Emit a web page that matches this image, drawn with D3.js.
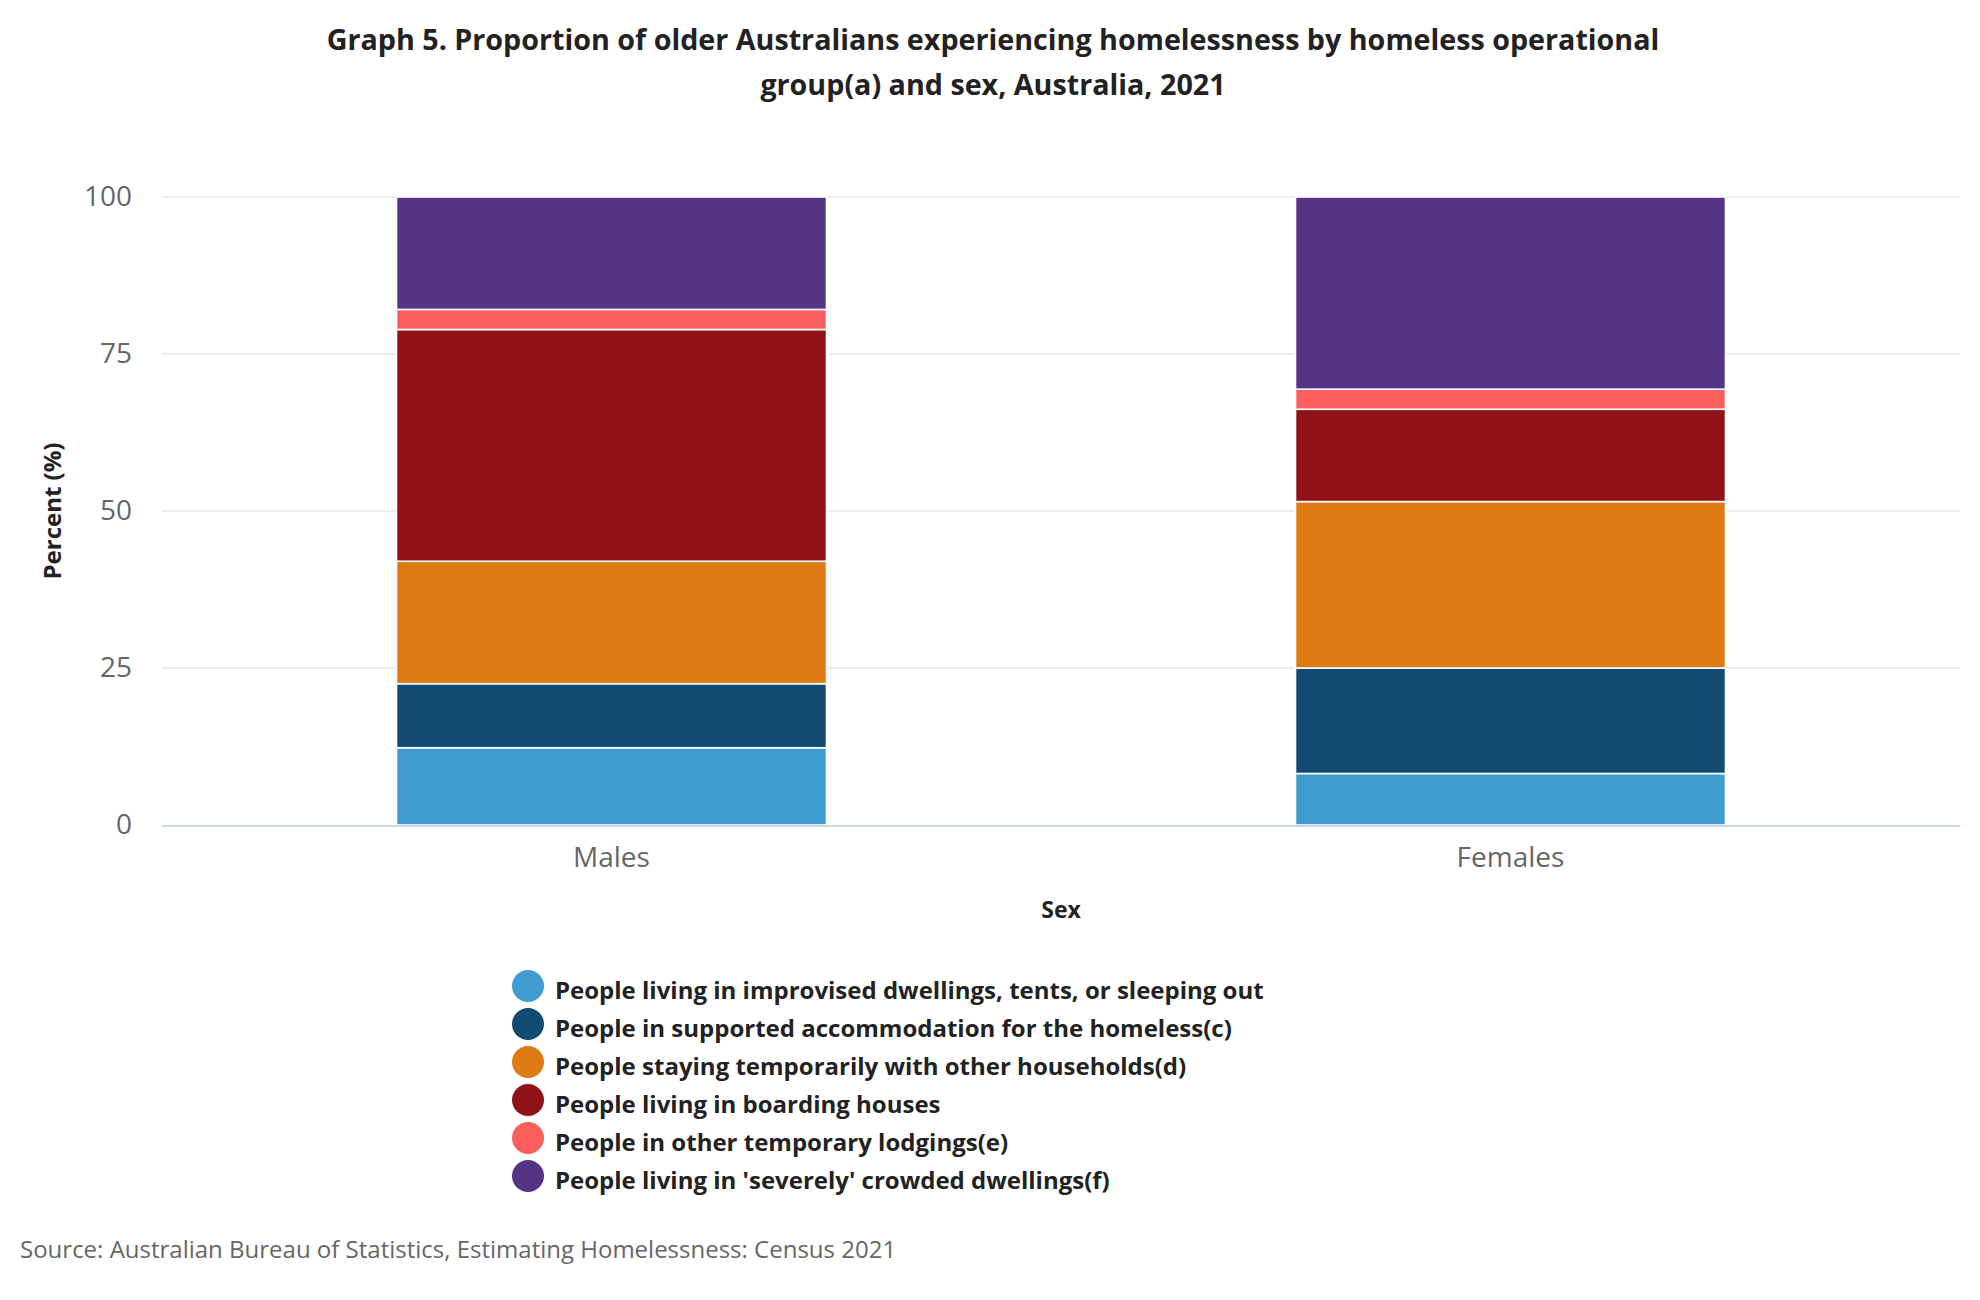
<!DOCTYPE html>
<html>
<head>
<meta charset="utf-8">
<script src="https://cdn.jsdelivr.net/npm/d3@7/dist/d3.min.js"></script>
<style>
  html, body { margin: 0; padding: 0; background: #fff; }
  svg { display: block; font-family: "Open Sans", "Noto Sans", sans-serif; }
</style>
</head>
<body>
<svg id="chart" width="1980" height="1300"></svg>
<script>
const categories = ["Males", "Females"];
const seriesNames = [
  "People living in improvised dwellings, tents, or sleeping out",
  "People in supported accommodation for the homeless(c)",
  "People staying temporarily with other households(d)",
  "People living in boarding houses",
  "People in other temporary lodgings(e)",
  "People living in 'severely' crowded dwellings(f)"
];
const improvised = [12.3, 8.2];
const supported = [10.2, 16.8];
const stayingTemp = [19.5, 26.5];
const boarding = [36.9, 14.7];
const otherLodgings = [3.2, 3.2];
const crowded = [17.9, 30.6];
const seriesColors = ["#3e9cd1", "#134a71", "#de7a13", "#8e1217", "#fd5f5f", "#553486"];
const yTicks = [0, 25, 50, 75, 100];
const titleLines = [
  "Graph 5. Proportion of older Australians experiencing homelessness by homeless operational",
  "group(a) and sex, Australia, 2021"
];
const sourceText = "Source: Australian Bureau of Statistics, Estimating Homelessness: Census 2021";

const seriesValues = [improvised, supported, stayingTemp, boarding, otherLodgings, crowded];
const table = categories.map((c, i) => {
  const row = { category: c };
  seriesNames.forEach((s, j) => row[s] = seriesValues[j][i]);
  return row;
});

const svg = d3.select("#chart");
const plotLeft = 162, plotRight = 1960, plotTop = 197, plotBottom = 825;

const x = d3.scaleBand().domain(categories).range([plotLeft, plotRight])
  .paddingInner(0.5217).paddingOuter(0.26085);
const y = d3.scaleLinear().domain([0, 100]).range([plotBottom, plotTop]);

// title
svg.append("g").selectAll("text").data(titleLines).join("text")
  .attr("x", 993).attr("y", (d, i) => 50 + i * 45)
  .attr("text-anchor", "middle")
  .attr("font-size", 28.7).attr("font-weight", 700).attr("fill", "#222")
  .text(d => d);

// gridlines
svg.append("g").selectAll("line").data(yTicks.filter(t => t !== 0)).join("line")
  .attr("x1", plotLeft).attr("x2", plotRight)
  .attr("y1", d => y(d)).attr("y2", d => y(d))
  .attr("stroke", "#e6e6e6").attr("stroke-width", 1.5);

// y axis labels
const yAxis = svg.append("g").attr("transform", `translate(${plotLeft},0)`)
  .call(d3.axisLeft(y).tickValues(yTicks).tickSize(0).tickPadding(30));
yAxis.select(".domain").remove();
yAxis.selectAll("text").attr("font-size", 28).attr("fill", "#666")
  .attr("font-family", "Open Sans");

// stacked bars
const stack = d3.stack().keys(seriesNames);
const stacked = stack(table);
svg.append("g").selectAll("g").data(stacked).join("g")
  .attr("fill", (d, i) => seriesColors[i])
  .selectAll("rect").data(d => d).join("rect")
  .attr("x", d => x(d.data.category))
  .attr("width", x.bandwidth())
  .attr("y", d => y(d[1]))
  .attr("height", d => y(d[0]) - y(d[1]))
  .attr("stroke", "#fff").attr("stroke-width", 1.6);

// x axis line
svg.append("line").attr("x1", plotLeft).attr("x2", plotRight)
  .attr("y1", y(0) + 1).attr("y2", y(0) + 1)
  .attr("stroke", "#ccd6eb").attr("stroke-width", 2);

const xAxis = svg.append("g").attr("transform", `translate(0,${plotBottom})`)
  .call(d3.axisBottom(x).tickSize(0).tickPadding(22));
xAxis.select(".domain").remove();
xAxis.selectAll("text").attr("font-size", 28).attr("fill", "#666")
  .attr("font-family", "Open Sans");

// axis titles
svg.append("text").attr("x", (plotLeft + plotRight) / 2).attr("y", 918)
  .attr("text-anchor", "middle").attr("font-size", 23).attr("font-weight", 700)
  .attr("fill", "#222").text("Sex");

svg.append("text")
  .attr("transform", `translate(61,${(plotTop + plotBottom) / 2}) rotate(-90)`)
  .attr("text-anchor", "middle").attr("font-size", 24).attr("font-weight", 700)
  .attr("fill", "#222").text("Percent (%)");

// legend
const legend = svg.append("g").selectAll("g").data(seriesNames).join("g")
  .attr("transform", (d, i) => `translate(528,${986 + i * 38})`);
legend.append("circle").attr("r", 16).attr("fill", (d, i) => seriesColors[i]);
legend.append("text").attr("x", 27).attr("y", 13)
  .attr("font-size", 24).attr("font-weight", 700).attr("fill", "#222")
  .text(d => d);

// source
svg.append("text").attr("x", 20).attr("y", 1258)
  .attr("font-size", 24).attr("fill", "#666").text(sourceText);
</script>
</body>
</html>
